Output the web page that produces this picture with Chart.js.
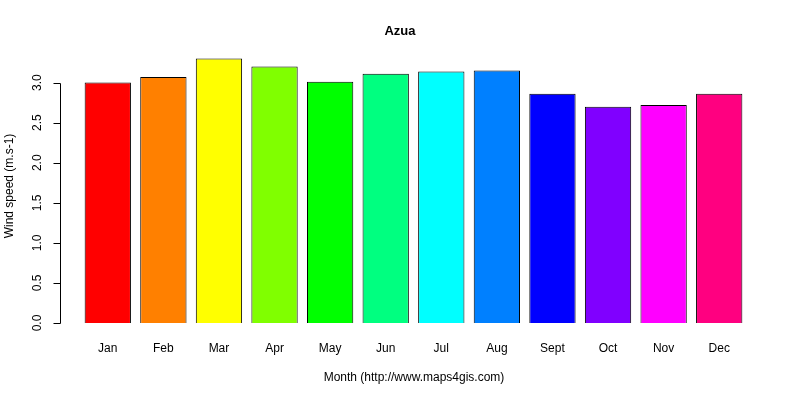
<!DOCTYPE html>
<html><head><script src="https://cdn.jsdelivr.net/npm/chart.js@4"></script>
<style>body{margin:0;background:#fff}#w{width:800px;height:400px}</style></head>
<body><div id="w"><canvas id="c"></canvas></div>
<script>
const months=["Jan","Feb","Mar","Apr","May","Jun","Jul","Aug","Sept","Oct","Nov","Dec"];
const speeds=[3.0,3.07,3.3,3.2,3.01,3.11,3.14,3.15,2.86,2.7,2.72,2.86];
const colors=["#FF0000","#FF8000","#FFFF00","#80FF00","#00FF00","#00FF80","#00FFFF","#0080FF","#0000FF","#8000FF","#FF00FF","#FF0080"];
const yTicks=["0.0","0.5","1.0","1.5","2.0","2.5","3.0"];
const F='"Liberation Sans", Arial, sans-serif';
const deco={id:'deco',afterDraw(ch){
 const c=ch.ctx,y=ch.scales.y,x=ch.scales.x;c.save();c.fillStyle='#000';c.strokeStyle='#000';c.lineWidth=1;
 c.font='bold 13px '+F;c.textAlign='center';c.textBaseline='middle';c.fillText('Azua',400,31);
 c.font='12px '+F;c.fillText('Month (http://www.maps4gis.com)',414,378);
 months.forEach((m,i)=>c.fillText(m,x.getPixelForValue(i),349));
 const ax=60.5,y0=y.getPixelForValue(0),y3=y.getPixelForValue(3);
 c.beginPath();c.moveTo(ax,Math.round(y0)+0.5);c.lineTo(ax,Math.round(y3)+0.5);
 yTicks.forEach(t=>{const p=Math.round(y.getPixelForValue(+t))+0.5;c.moveTo(ax,p);c.lineTo(ax-7,p);});c.stroke();
 yTicks.forEach(t=>{const p=y.getPixelForValue(+t);c.save();c.translate(38,p);c.rotate(-Math.PI/2);c.fillText(t,0,0);c.restore();});
 c.save();c.translate(10,186);c.rotate(-Math.PI/2);c.fillText('Wind speed (m.s-1)',0,0);c.restore();
 c.restore();}};
new Chart(document.getElementById('c'),{type:'bar',
data:{labels:months,datasets:[{data:speeds,backgroundColor:colors,borderColor:'#000',borderWidth:1,barPercentage:0.833,categoryPercentage:1}]},
options:{responsive:true,maintainAspectRatio:false,animation:false,
layout:{padding:{left:80,right:53,top:48,bottom:77}},
plugins:{legend:{display:false},tooltip:{enabled:false}},
scales:{x:{display:false},y:{display:false,min:0,max:3.432}}},plugins:[deco]});
</script></body></html>
